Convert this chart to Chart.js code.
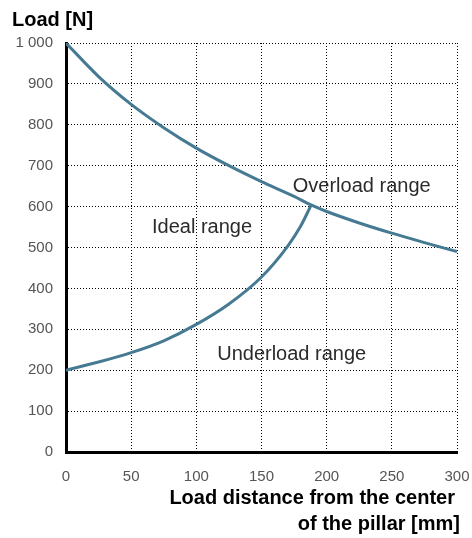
<!DOCTYPE html>
<html>
<head>
<meta charset="utf-8">
<script src="https://cdn.jsdelivr.net/npm/chart.js@4/dist/chart.umd.min.js"></script>
<style>
html,body{margin:0;padding:0;background:#fff;}
#wrap{width:472px;height:538px;position:relative;}
</style>
</head>
<body>
<div id="wrap"><canvas id="c" width="472" height="538"></canvas></div>
<script>
// ---- data ----
const upperX = [0, 25, 50, 75, 100, 125, 150, 175, 188, 200, 225, 250, 275, 300];
const upperY = [1000, 918, 850, 793, 743, 700, 661, 625, 604, 588, 560, 535, 512, 490];
const lowerX = [0, 25, 50, 75, 100, 125, 150, 170, 180, 188];
const lowerY = [200, 220, 243, 272, 312, 362, 428, 503, 552, 603];
const xTicks = [0, 50, 100, 150, 200, 250, 300];
const yTicks = [0, 100, 200, 300, 400, 500, 600, 700, 800, 900, 1000];
const regionLabels = ['Overload range', 'Ideal range', 'Underload range'];
const regionLabelX = [174, 66, 116];
const regionLabelY = [635, 535, 226];
const yTitle = 'Load [N]';
const xTitle = ['Load distance from the center', 'of the pillar [mm]'];

const LINE = '#467a93';
const FONT = '"Liberation Sans", Arial, Helvetica, sans-serif';

function pts(xs, ys){ return xs.map((x,i)=>({x:x, y:ys[i]})); }

const textPlugin = {
  id: 'texts',
  afterDraw(chart){
    const ctx = chart.ctx;
    const xs = chart.scales.x, ys = chart.scales.y;
    ctx.save();
    ctx.fillStyle = '#2b2b2b';
    ctx.font = '20px ' + FONT;
    ctx.textAlign = 'left';
    ctx.textBaseline = 'alphabetic';
    regionLabels.forEach((t,i)=>{
      ctx.fillText(t, xs.getPixelForValue(regionLabelX[i]), ys.getPixelForValue(regionLabelY[i]));
    });
    ctx.fillStyle = '#000';
    ctx.font = 'bold 20px ' + FONT;
    ctx.fillText(yTitle, 12, 26);
    ctx.textAlign = 'right';
    ctx.fillText(xTitle[0], 455, 504);
    ctx.fillText(xTitle[1], 460, 530);
    ctx.restore();
  }
};

new Chart(document.getElementById('c'), {
  type: 'line',
  data: {
    datasets: [
      { data: pts(upperX, upperY), borderColor: LINE, borderWidth: 3, pointRadius: 0, cubicInterpolationMode: 'monotone', fill: false },
      { data: pts(lowerX, lowerY), borderColor: LINE, borderWidth: 3, pointRadius: 0, cubicInterpolationMode: 'monotone', fill: false }
    ]
  },
  options: {
    responsive: false,
    animation: false,
    layout: { padding: { left: 15, right: 15, top: 43, bottom: 0 } },
    plugins: { legend: { display: false }, tooltip: { enabled: false }, title: { display: false } },
    scales: {
      x: {
        type: 'linear', min: 0, max: 300,
        afterBuildTicks(s){ s.ticks = xTicks.map(v=>({value:v})); },
        afterFit(s){ s.height = 86; s.paddingLeft = 0; s.paddingRight = 0; },
        ticks: { color: '#555', font: { family: FONT, size: 15 }, padding: 16, maxRotation: 0 },
        grid: { color: '#000', lineWidth: 1, drawTicks: false },
        border: { display: true, color: '#000', width: 3, dash: [1, 2] }
      },
      y: {
        type: 'linear', min: 0, max: 1000,
        afterBuildTicks(s){ s.ticks = yTicks.map(v=>({value:v})); },
        afterFit(s){ s.width = 51; s.paddingTop = 0; s.paddingBottom = 0; },
        ticks: { color: '#555', font: { family: FONT, size: 15 }, padding: 13,
          callback: v => v >= 1000 ? String(v).replace(/\B(?=(\d{3})+(?!\d))/g, ' ') : String(v) },
        grid: { color: '#000', lineWidth: 1, drawTicks: false },
        border: { display: true, color: '#000', width: 3, dash: [1, 2] }
      }
    }
  },
  plugins: [textPlugin]
});
</script>
</body>
</html>
